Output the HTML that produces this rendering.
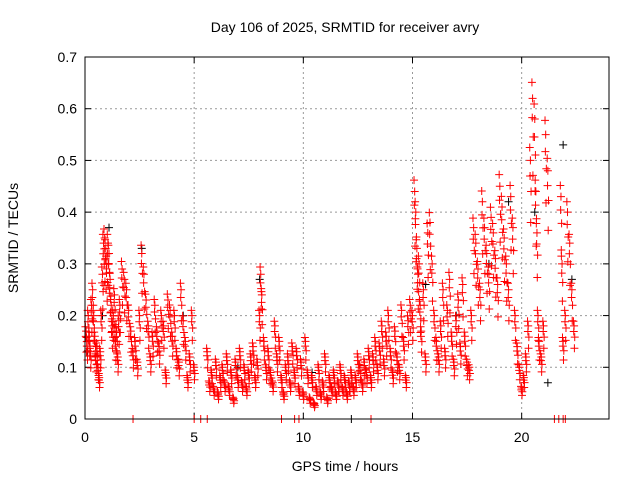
<!DOCTYPE html>
<html><head><meta charset="utf-8"><style>
body{margin:0;background:#fff;width:640px;height:480px;overflow:hidden}
svg{font-family:"Liberation Sans",sans-serif}
</style></head><body>
<svg id="chart" width="640" height="480" viewBox="0 0 640 480">
<text x="345" y="32" font-size="14" text-anchor="middle">Day 106 of 2025, SRMTID for receiver avry</text>
<text x="345" y="471" font-size="14" text-anchor="middle">GPS time / hours</text>
<text x="18" y="238" font-size="14" text-anchor="middle" transform="rotate(-90 18 238)">SRMTID / TECUs</text>
<g id="grid"></g><g id="axes"></g><g id="black"></g><g id="red"></g>
<rect x="85" y="57" width="524" height="362" fill="none" stroke="#000" stroke-width="1"/>
</svg>
<script>
const xTicks=[0,5,10,15,20];
const yTicks=[0,0.1,0.2,0.3,0.4,0.5,0.6,0.7];
const yTickLabels=["0","0.1","0.2","0.3","0.4","0.5","0.6","0.7"];
const redTimes=[0.05,0.1,0.15,0.2,0.25,0.3,0.35,0.4,0.45,0.5,0.55,0.6,0.65,0.7,0.75,0.8,0.85,0.9,0.95,1.0,1.05,1.1,1.15,1.2,1.25,1.3,1.35,1.4,1.45,1.5,1.55,1.6,1.7,1.8,1.9,2.0,2.1,2.2,2.3,2.4,2.5,2.6,2.7,2.8,2.9,3.0,3.1,3.2,3.3,3.4,3.5,3.6,3.7,3.8,3.9,4.0,4.1,4.2,4.3,4.4,4.5,4.6,4.7,4.8,4.9,5.0,5.6,5.7,5.8,5.9,6.0,6.1,6.2,6.3,6.4,6.5,6.6,6.7,6.8,6.9,7.0,7.1,7.2,7.3,7.4,7.5,7.6,7.7,7.8,7.9,8.0,8.05,8.1,8.2,8.3,8.4,8.5,8.6,8.7,8.8,8.9,9.0,9.1,9.2,9.3,9.4,9.5,9.6,9.7,9.8,9.9,10.0,10.1,10.2,10.3,10.4,10.5,10.6,10.7,10.8,10.9,11.0,11.1,11.2,11.3,11.4,11.5,11.6,11.7,11.8,11.9,12.0,12.1,12.2,12.3,12.4,12.5,12.6,12.7,12.8,12.9,13.0,13.1,13.2,13.3,13.4,13.5,13.6,13.7,13.8,13.9,14.0,14.1,14.2,14.3,14.4,14.5,14.6,14.7,14.8,14.9,15.0,15.1,15.15,15.2,15.25,15.3,15.35,15.4,15.5,15.6,15.7,15.8,15.9,16.0,16.1,16.2,16.3,16.4,16.5,16.6,16.7,16.8,16.9,17.0,17.1,17.2,17.3,17.4,17.5,17.6,17.7,17.8,17.9,18.0,18.1,18.2,18.3,18.4,18.5,18.6,18.7,18.8,18.9,19.0,19.1,19.2,19.3,19.4,19.5,19.6,19.7,19.8,19.9,20.0,20.1,20.2,20.3,20.4,20.5,20.6,20.65,20.7,20.75,20.8,20.9,21.0,21.1,21.2,21.8,21.85,21.9,22.0,22.1,22.2,22.3,22.4,22.5,22.6];
const redValues=[0.17,0.15,0.2,0.16,0.13,0.22,0.25,0.2,0.16,0.12,0.14,0.1,0.08,0.13,0.2,0.28,0.34,0.35,0.33,0.3,0.34,0.32,0.27,0.22,0.18,0.2,0.24,0.15,0.17,0.12,0.19,0.22,0.29,0.27,0.25,0.21,0.17,0.13,0.15,0.11,0.2,0.32,0.28,0.23,0.18,0.12,0.16,0.22,0.17,0.14,0.2,0.18,0.09,0.23,0.21,0.16,0.2,0.13,0.11,0.25,0.19,0.15,0.08,0.12,0.2,0.1,0.13,0.07,0.09,0.06,0.11,0.05,0.08,0.1,0.07,0.12,0.06,0.09,0.04,0.11,0.08,0.13,0.07,0.1,0.06,0.09,0.12,0.14,0.08,0.11,0.2,0.28,0.24,0.15,0.1,0.13,0.09,0.07,0.18,0.12,0.15,0.08,0.05,0.1,0.12,0.07,0.14,0.09,0.13,0.06,0.11,0.05,0.15,0.09,0.04,0.08,0.03,0.06,0.1,0.05,0.07,0.12,0.04,0.08,0.06,0.09,0.05,0.07,0.1,0.06,0.08,0.05,0.07,0.09,0.06,0.08,0.12,0.1,0.07,0.11,0.09,0.13,0.08,0.12,0.15,0.1,0.14,0.18,0.11,0.16,0.2,0.13,0.09,0.17,0.12,0.1,0.21,0.15,0.08,0.19,0.22,0.2,0.44,0.4,0.33,0.28,0.3,0.22,0.17,0.25,0.12,0.36,0.38,0.3,0.2,0.15,0.12,0.18,0.25,0.13,0.21,0.27,0.16,0.11,0.19,0.23,0.14,0.26,0.16,0.11,0.1,0.2,0.37,0.34,0.29,0.25,0.42,0.37,0.32,0.28,0.39,0.36,0.31,0.26,0.45,0.41,0.35,0.3,0.25,0.43,0.37,0.2,0.14,0.1,0.06,0.08,0.12,0.18,0.5,0.62,0.58,0.44,0.36,0.2,0.15,0.12,0.18,0.55,0.48,0.43,0.3,0.15,0.2,0.4,0.34,0.25,0.18];
const blackTimes=[0.1,0.8,1.1,2.6,4.5,7.0,8.0,10.4,12.2,15.6,17.0,18.5,19.4,20.6,21.2,21.9,22.3];
const blackValues=[0.13,0.2,0.37,0.33,0.2,0.1,0.27,0.09,0.0,0.26,0.2,0.3,0.42,0.4,0.07,0.53,0.27];
const redZeroTimes=[2.2,5.0,5.3,5.6,9.0,9.6,9.8,13.1,21.5,21.7,21.9,22.0];
const X0=85,X1=609,Y0=419,Y1=57;
const xs=t=>X0+(t/24)*(X1-X0);
const ys=v=>Y0-(v/0.7)*(Y0-Y1);
const NS="http://www.w3.org/2000/svg";
const grid=document.getElementById('grid'),axes=document.getElementById('axes');
function mk(tag,attrs,parent){const e=document.createElementNS(NS,tag);for(const k in attrs)e.setAttribute(k,attrs[k]);parent.appendChild(e);return e;}
xTicks.forEach(t=>{
  const x=xs(t);
  if(t>0){const g=mk('line',{x1:x,x2:x,y1:Y1,y2:Y0,stroke:'#999','stroke-dasharray':'2,3'},grid);
  
  }
  const tk=mk('line',{x1:x,x2:x,y1:Y0,y2:Y0-6,stroke:'#000'},axes);
  
  
  const tk2=mk('line',{x1:x,x2:x,y1:Y1,y2:Y1+6,stroke:'#000'},axes);
  
  
  const l=mk('text',{x:x,y:Y0+23,'font-size':14,'text-anchor':'middle'},axes);l.textContent=String(t);
  
  
});
yTicks.forEach((v,i)=>{
  const y=ys(v);
  if(v>0&&v<0.7){const g=mk('line',{x1:X0,x2:X1,y1:y,y2:y,stroke:'#999','stroke-dasharray':'2,3'},grid);
  
  }
  const tk=mk('line',{x1:X0,x2:X0+6,y1:y,y2:y,stroke:'#000'},axes);
  
  
  const tk2=mk('line',{x1:X1,x2:X1-6,y1:y,y2:y,stroke:'#000'},axes);
  
  
  const l=mk('text',{x:X0-8,y:y+5,'font-size':14,'text-anchor':'end'},axes);l.textContent=yTickLabels[i];
  
  
});
function plus(parent,t,v,col,name){
  const x=xs(t),y=ys(v);
  const p=mk('path',{d:`M${x-4} ${y}H${x+4}M${x} ${y-4}V${y+4}`,stroke:col,'stroke-width':1},parent);
  
  
}
const bg=document.getElementById('black'),rg=document.getElementById('red');
blackTimes.forEach((t,i)=>plus(bg,t,blackValues[i],'#000','black-point'));
const copies=[[0,1],[0.03,0.88],[-0.03,1.05],[0.015,0.76],[-0.015,0.94]];
redTimes.forEach((t,i)=>{
  copies.forEach(c=>plus(rg,t+c[0],redValues[i]*c[1],'#f00','red-point'));
});
redZeroTimes.forEach(t=>plus(rg,t,0,'#f00','red-zero-point'));
</script>
</body></html>
